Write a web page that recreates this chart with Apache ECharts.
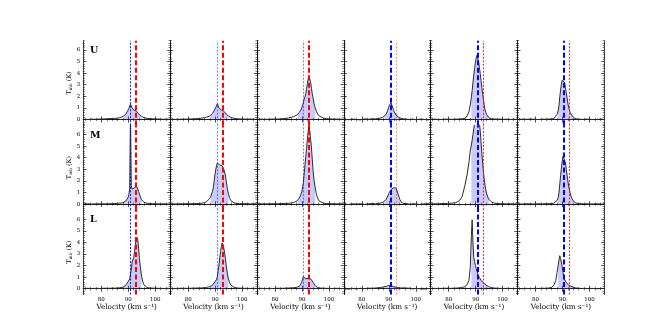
<!DOCTYPE html>
<html><head><meta charset="utf-8">
<script src="https://cdn.jsdelivr.net/npm/echarts@6/dist/echarts.min.js"></script>
<style>html,body{margin:0;padding:0;background:#fff}#c{width:672px;height:336px}</style>
</head><body><div id="c"></div>
<script>
// ---------- data ----------
const velocity = [73.5,75,76.5,78,79.5,81,82.5,84,85,86,86.8,87.5,88,88.4,88.7,89,89.3,89.6,89.9,90.2,90.5,90.8,91.1,91.4,91.7,92,92.3,92.6,92.9,93.2,93.5,93.8,94.1,94.5,94.9,95.3,95.8,96.4,97,98,99,100,101.5,103,104.5,105.5];
const rowNames = ['U','M','L'];
const U1 = [0.02,0.0,0.03,0.02,0.04,0.05,0.07,0.09,0.1,0.12,0.16,0.2,0.26,0.32,0.38,0.45,0.55,0.68,0.82,0.95,1.1,1.32,1.45,1.0,0.88,0.82,0.8,0.78,0.74,0.66,0.58,0.5,0.42,0.34,0.27,0.22,0.17,0.13,0.1,0.08,0.06,0.05,0.04,0.02,0.03,0.02];
const U2 = [0.03,0.01,0.02,0.03,0.03,0.05,0.06,0.09,0.12,0.16,0.2,0.25,0.3,0.36,0.44,0.52,0.62,0.74,0.88,1.02,1.18,1.35,1.52,1.0,0.9,0.86,0.82,0.8,0.77,0.72,0.64,0.56,0.47,0.38,0.3,0.24,0.18,0.13,0.1,0.07,0.05,0.04,0.03,0.04,0.02,0.03];
const U3 = [0.02,0.03,0.01,0.03,0.04,0.04,0.06,0.1,0.13,0.18,0.24,0.3,0.38,0.45,0.52,0.6,0.7,0.82,0.98,1.2,1.45,1.75,1.95,2.25,2.65,3.1,3.5,3.75,3.6,3.2,2.7,2.25,1.85,1.35,1.0,0.72,0.48,0.3,0.2,0.12,0.08,0.06,0.04,0.03,0.02,0.03];
const U4 = [0.03,-0.02,0.04,0.0,-0.03,0.05,0.02,0.06,0.05,0.09,0.12,0.17,0.22,0.28,0.36,0.46,0.6,0.8,1.02,1.22,1.38,1.43,1.3,1.08,0.85,0.66,0.5,0.4,0.33,0.27,0.22,0.17,0.13,0.1,0.08,0.06,0.07,0.03,0.05,0.0,0.04,-0.02,0.03,0.01,-0.03,0.02];
const U5 = [0.02,0.03,-0.01,0.02,0.03,0.01,0.03,0.04,0.06,0.1,0.3,0.65,1.25,1.9,2.5,3.2,3.85,4.4,4.9,5.3,5.55,5.4,5.0,4.5,3.95,3.35,2.75,2.2,1.7,1.2,0.85,0.6,0.42,0.26,0.16,0.1,0.06,0.03,0.05,0.02,0.04,0.01,0.03,0.0,0.02,0.01];
const U6 = [0.0,0.03,0.01,0.04,0.02,0.0,0.03,0.02,0.04,0.05,0.08,0.2,0.45,0.75,1.2,1.95,2.55,3.05,3.4,3.52,3.5,3.2,2.75,2.3,1.85,1.4,1.05,0.8,0.6,0.45,0.33,0.24,0.18,0.12,0.08,0.05,0.06,0.02,0.04,0.01,0.03,0.02,-0.01,0.02,0.03,0.0];
const M1 = [0.02,0.03,0.01,0.02,0.03,0.02,0.03,0.04,0.05,0.07,0.08,0.1,0.12,0.16,0.2,0.26,0.33,0.42,0.55,0.8,1.3,7.6,1.6,1.3,1.25,1.3,1.4,1.55,1.6,1.5,1.3,1.1,0.88,0.6,0.38,0.24,0.15,0.1,0.07,0.05,0.04,0.03,0.02,0.03,0.01,0.02];
const M2 = [0.02,0.01,0.03,0.02,0.04,0.03,0.04,0.06,0.08,0.12,0.2,0.32,0.5,0.68,0.85,1.1,1.45,1.95,2.5,2.95,3.3,3.55,3.7,3.45,3.38,3.4,3.38,3.3,3.15,3.0,2.9,2.5,2.0,1.35,0.9,0.55,0.3,0.17,0.1,0.06,0.05,0.03,0.04,0.02,0.03,0.02];
const M3 = [0.02,0.03,0.02,0.03,0.04,0.03,0.05,0.06,0.07,0.09,0.12,0.18,0.25,0.32,0.4,0.52,0.68,0.85,1.05,1.4,1.85,2.6,3.4,4.1,4.8,5.6,6.3,6.75,6.3,5.6,4.9,3.9,2.9,2.0,1.4,0.9,0.5,0.25,0.15,0.08,0.05,0.04,0.03,0.02,0.03,0.02];
const M4 = [0.02,-0.03,0.03,0.0,0.04,-0.02,0.03,0.05,0.02,0.06,0.08,0.12,0.18,0.24,0.32,0.42,0.55,0.7,0.85,1.0,1.15,1.25,1.28,1.32,1.4,1.45,1.45,1.4,1.25,1.05,0.82,0.6,0.4,0.22,0.1,0.05,0.03,0.06,0.02,-0.02,0.04,0.01,-0.03,0.02,0.04,0.0];
const M5 = [0.03,0.02,0.04,0.05,0.06,0.08,0.12,0.3,0.65,1.6,2.5,3.6,4.6,5.1,5.5,6.0,6.5,7.0,7.5,7.9,8.1,8.0,7.6,7.0,6.3,5.4,4.4,3.5,2.75,2.1,1.6,1.2,0.88,0.6,0.42,0.3,0.2,0.12,0.08,0.05,0.04,0.03,0.02,0.03,0.01,0.02];
const M6 = [0.02,0.0,0.03,0.02,0.01,0.03,0.02,0.04,0.03,0.05,0.08,0.15,0.32,0.55,1.0,1.75,2.45,3.1,3.7,4.15,4.3,4.0,3.55,3.0,2.5,2.0,1.55,1.2,0.9,0.68,0.5,0.36,0.25,0.16,0.1,0.07,0.05,0.03,0.04,0.02,0.03,0.01,0.02,0.03,0.0,0.02];
const L1 = [0.02,0.03,0.02,0.03,0.02,0.04,0.03,0.05,0.05,0.06,0.08,0.1,0.13,0.17,0.22,0.28,0.35,0.45,0.6,0.75,0.85,0.95,1.7,2.3,2.45,2.7,3.2,3.8,4.25,4.43,4.2,3.5,2.6,1.8,1.1,0.65,0.33,0.16,0.1,0.06,0.05,0.04,0.03,0.02,0.03,0.02];
const L2 = [0.03,0.02,0.03,0.04,0.03,0.04,0.05,0.06,0.07,0.09,0.11,0.14,0.18,0.22,0.26,0.3,0.36,0.45,0.58,0.7,0.8,1.05,1.5,2.05,2.65,3.2,3.65,3.95,3.85,3.5,3.1,2.6,2.0,1.35,0.85,0.55,0.32,0.18,0.12,0.06,0.05,0.04,0.03,0.02,0.03,0.02];
const L3 = [0.02,0.03,0.01,0.03,0.02,0.04,0.03,0.05,0.06,0.07,0.08,0.1,0.12,0.15,0.18,0.2,0.25,0.35,0.55,0.82,1.05,1.1,0.95,0.85,0.82,0.84,0.9,0.92,0.9,0.86,0.82,0.72,0.55,0.38,0.25,0.16,0.1,0.06,0.05,0.04,0.03,0.03,0.02,0.03,0.01,0.02];
const L4 = [0.02,-0.04,0.03,-0.02,0.04,0.0,0.05,0.03,0.06,0.08,0.1,0.12,0.15,0.16,0.18,0.2,0.23,0.26,0.28,0.3,0.32,0.28,0.24,0.2,0.18,0.16,0.15,0.14,0.12,0.13,0.1,0.08,0.1,0.06,0.04,0.07,0.03,0.05,0.01,0.04,-0.02,0.03,0.0,-0.03,0.02,0.01];
const L5 = [0.02,0.03,0.02,0.03,0.04,0.03,0.05,0.07,0.1,0.18,0.35,0.7,1.8,4.5,5.95,4.0,2.7,2.35,2.0,1.75,1.5,1.25,1.08,0.95,0.85,0.72,0.65,0.58,0.5,0.42,0.38,0.33,0.28,0.2,0.16,0.13,0.1,0.06,0.05,0.04,0.03,0.02,0.03,0.02,0.01,0.02];
const L6 = [0.02,0.0,0.03,0.01,0.03,0.02,0.04,0.03,0.06,0.12,0.3,0.7,1.4,2.0,2.5,2.85,2.6,2.45,1.9,1.4,1.05,0.8,0.65,0.52,0.45,0.38,0.32,0.28,0.24,0.2,0.17,0.14,0.12,0.09,0.07,0.05,0.04,0.05,0.02,0.03,0.01,0.03,0.02,0.0,0.02,0.01];
const spectra = [[U1,U2,U3,U4,U5,U6],[M1,M2,M3,M4,M5,M6],[L1,L2,L3,L4,L5,L6]];
const xTicks = [80, 90, 100];
const yTicks = [0, 1, 2, 3, 4, 5, 6];
const fillWindow = [88.4, 94.9];
const blueVel = 90.65;
const redVel = 92.65;
const thickColour = ['red','red','red','blue','blue','blue'];
const thinOpacity = [0.9, 0.5, 0.5, 0.45, 0.85, 0.85];

// ---------- layout / style ----------
const X_MIN = 73.3, X_MAX = 105.5, Y_MIN = -0.5, Y_MAX = 6.8;
const P_LEFT = 83.3, P_TOP = 40.7, P_W = 86.83, P_H = 84.6;
const FONT = 'DejaVu Serif';
const xMinor = [], yMinor = [];
for (let v = 74; v <= 105; v += 2) if (v % 10 !== 0) xMinor.push(v);
for (let i = -2; i <= 34; i++) if (i % 5 !== 0) yMinor.push(+(i * 0.2).toFixed(1));

const grids = [], xAxes = [], yAxes = [], series = [], titles = [];
function axisBase(k, min, max) {
  return {type:'value', gridIndex:k, min:min, max:max, splitLine:{show:false}, axisLabel:{show:false}};
}
for (let r = 0; r < 3; r++) {
  titles.push({text: rowNames[r], left: 90, top: P_TOP + r*P_H + 4.8, padding: 0,
    textStyle:{fontFamily: FONT, fontWeight:'bold', fontSize: 9.5, color:'#000'}});
  for (let c = 0; c < 6; c++) {
    const k = r*6 + c;
    grids.push({left: P_LEFT + c*P_W, top: P_TOP + r*P_H, width: P_W, height: P_H, containLabel:false});
    const line = {show:true, lineStyle:{color:'#111', width:0.8}};
    const xb = axisBase(k, X_MIN, X_MAX);
    Object.assign(xb, {position:'bottom', axisLine: line,
      axisTick:{show:true, inside:true, length:3, customValues:xTicks, lineStyle:{color:'#000', width:0.7}},
      axisLabel:{show: r === 2, customValues:xTicks, fontFamily:FONT, fontSize:5.5, color:'#000', margin:2.5}});
    if (r === 2) Object.assign(xb, {name:'Velocity (km s\u207B\u00B9)', nameLocation:'middle', nameGap:9,
      nameTextStyle:{fontFamily:FONT, fontSize:7.2, color:'#000'}});
    xAxes.push(xb);
    xAxes.push(Object.assign(axisBase(k, X_MIN, X_MAX), {position:'bottom', axisLine:{show:false},
      axisTick:{show:true, inside:true, length:1.6, customValues:xMinor, lineStyle:{color:'#000', width:0.5}}}));
    xAxes.push(Object.assign(axisBase(k, X_MIN, X_MAX), {position:'top', axisLine: line,
      axisTick:{show:true, inside:true, length:3, customValues:xTicks, lineStyle:{color:'#000', width:0.7}}}));
    xAxes.push(Object.assign(axisBase(k, X_MIN, X_MAX), {position:'top', axisLine:{show:false},
      axisTick:{show:true, inside:true, length:1.6, customValues:xMinor, lineStyle:{color:'#000', width:0.5}}}));
    const yl = axisBase(k, Y_MIN, Y_MAX);
    Object.assign(yl, {position:'left', axisLine: line,
      axisTick:{show:true, inside:true, length:3, customValues:yTicks, lineStyle:{color:'#000', width:0.7}},
      axisLabel:{show: c === 0, customValues:yTicks, fontFamily:FONT, fontSize:5.5, color:'#000', margin:3}});
    if (c === 0) Object.assign(yl, {name:'{t|T}{s|mb} (K)', nameLocation:'middle', nameGap:9, nameRotate:90,
      nameTextStyle:{fontFamily:FONT, fontSize:6.5, color:'#000',
        rich:{t:{fontFamily:FONT, fontSize:6.5, color:'#000', verticalAlign:'middle'},
              s:{fontFamily:FONT, fontSize:4.3, color:'#000', verticalAlign:'top', padding:[3,0,0,0]}}}});
    yAxes.push(yl);
    yAxes.push(Object.assign(axisBase(k, Y_MIN, Y_MAX), {position:'left', axisLine:{show:false},
      axisTick:{show:true, inside:true, length:1.6, customValues:yMinor, lineStyle:{color:'#000', width:0.5}}}));
    yAxes.push(Object.assign(axisBase(k, Y_MIN, Y_MAX), {position:'right', axisLine: line,
      axisTick:{show:true, inside:true, length:3, customValues:yTicks, lineStyle:{color:'#000', width:0.7}}}));
    yAxes.push(Object.assign(axisBase(k, Y_MIN, Y_MAX), {position:'right', axisLine:{show:false},
      axisTick:{show:true, inside:true, length:1.6, customValues:yMinor, lineStyle:{color:'#000', width:0.5}}}));

    const vals = spectra[r][c];
    const pts = velocity.map((v, i) => [v, vals[i]]);
    const fillPts = pts.filter(p => p[0] >= fillWindow[0] && p[0] <= fillWindow[1]);
    const blueThick = thickColour[c] === 'blue';
    const thick = {width:2, type:[5,2.5], opacity:1};
    const thin = {width:1, type:[2,1.5], opacity:thinOpacity[c]};
    series.push({type:'line', xAxisIndex:4*k, yAxisIndex:4*k, data:fillPts, showSymbol:false, symbol:'none',
      lineStyle:{width:0, opacity:0}, areaStyle:{color:'rgba(75,85,238,0.3)', opacity:1}, silent:true, z:1,
      markLine:{silent:true, symbol:['none','none'], label:{show:false}, animation:false,
        data:[
          {xAxis: blueVel, lineStyle: Object.assign({color:'#0000ff'}, blueThick ? thick : thin)},
          {xAxis: redVel, lineStyle: Object.assign({color:'#ff0000'}, blueThick ? thin : thick)}
        ]}});
    series.push({type:'line', xAxisIndex:4*k, yAxisIndex:4*k, data:pts, showSymbol:false, symbol:'none',
      lineStyle:{color:'#2b2b2b', width:1.0}, silent:true, z:3});
  }
}
const chart = echarts.init(document.getElementById('c'), null, {renderer:'canvas'});
chart.setOption({animation:false, backgroundColor:'#fff', title:titles, grid:grids, xAxis:xAxes, yAxis:yAxes, series:series});
</script></body></html>
